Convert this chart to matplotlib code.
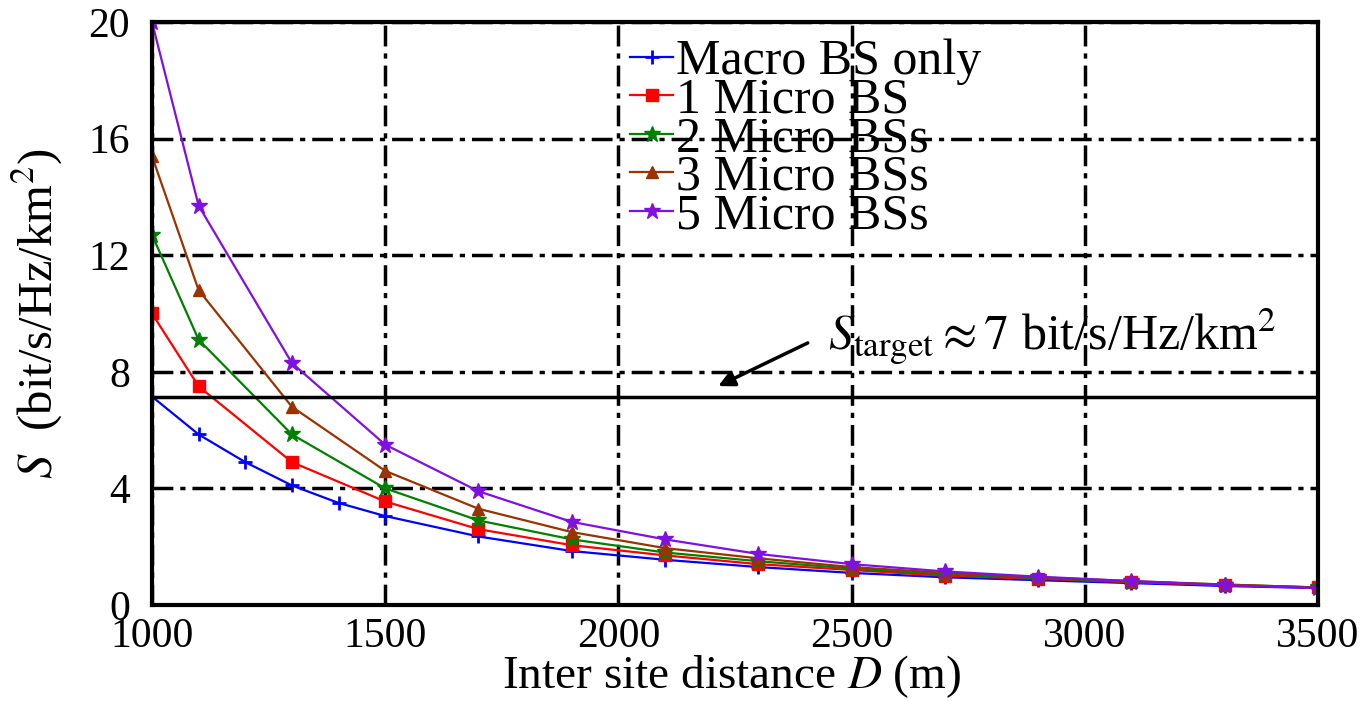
import numpy as np
import matplotlib
matplotlib.use("Agg")
import matplotlib.pyplot as plt

plt.rcParams['font.family'] = ['Liberation Serif', 'DejaVu Serif']
plt.rcParams['mathtext.fontset'] = 'stix'

# inter site distance (m)
d_macro = [1000, 1100, 1200, 1300, 1400, 1500, 1700, 1900, 2100, 2300, 2500, 2700, 2900, 3100, 3300, 3500]
d_micro = [1000, 1100, 1300, 1500, 1700, 1900, 2100, 2300, 2500, 2700, 2900, 3100, 3300, 3500]

# area spectral efficiency S (bit/s/Hz/km^2)
s_macro = [7.15, 5.85, 4.9, 4.1, 3.5, 3.05, 2.35, 1.85, 1.55, 1.3, 1.1, 0.95, 0.85, 0.75, 0.65, 0.58]
s_1micro = [10.0, 7.5, 4.9, 3.55, 2.6, 2.05, 1.7, 1.4, 1.2, 1.0, 0.9, 0.78, 0.68, 0.6]
s_2micro = [12.7, 9.1, 5.85, 4.0, 2.9, 2.25, 1.8, 1.5, 1.25, 1.05, 0.92, 0.8, 0.7, 0.6]
s_3micro = [15.4, 10.8, 6.8, 4.6, 3.3, 2.5, 1.95, 1.6, 1.3, 1.1, 0.95, 0.82, 0.7, 0.6]
s_5micro = [20.0, 13.7, 8.3, 5.5, 3.9, 2.85, 2.25, 1.75, 1.4, 1.15, 0.97, 0.82, 0.68, 0.58]

s_target = 7.15

fig = plt.figure(figsize=(13.63, 7.01), dpi=100)
ax = fig.add_axes([0.1115, 0.137, 0.8555, 0.8316])

ax.plot(d_macro, s_macro, color='#0000ff', marker='+', ms=10, mew=2, lw=1.6, label='Macro BS only')
ax.plot(d_micro, s_1micro, color='#ff0000', marker='s', ms=8, lw=1.6, label='1 Micro BS')
ax.plot(d_micro, s_2micro, color='#008000', marker='*', ms=12, lw=1.6, label='2 Micro BSs')
ax.plot(d_micro, s_3micro, color='#993300', marker='^', ms=9, lw=1.6, label='3 Micro BSs')
ax.plot(d_micro, s_5micro, color='#8010e0', marker='*', ms=12, lw=1.6, label='5 Micro BSs')

# target level and its label
ax.axhline(s_target, color='black', lw=2.5)
ax.annotate('', xy=(2214, 7.51), xytext=(2406, 8.99),
            arrowprops=dict(arrowstyle='-|>', color='black', lw=2.5, mutation_scale=24,
                            shrinkA=0, shrinkB=0))
ax.text(2449, 8.75, r'$S_{\mathrm{target}} \approx 7$ bit/s/Hz/km$^2$',
        fontsize=36, va='baseline', ha='left')

ax.set_xlim(1000, 3500)
ax.set_ylim(0, 20)
ax.set_xticks(np.arange(1000, 3501, 500))
ax.set_yticks(np.arange(0, 21, 4))
ax.grid(True, color='black', linestyle=(0, (6, 2, 1.5, 2)), lw=2.5)
for sp in ax.spines.values():
    sp.set_linewidth(3)
ax.tick_params(direction='in', length=6, width=2, labelsize=30)
ax.tick_params(axis='x', pad=9)
ax.tick_params(axis='y', pad=16)

ax.set_xlabel(r'Inter site distance $D$ (m)', fontsize=34, va='center')
ax.xaxis.set_label_coords(0.497, -0.123)
ax.set_ylabel(r'$S$  (bit/s/Hz/km$^2$)', fontsize=35, va='center')
ax.yaxis.set_label_coords(-0.098, 0.5)

leg = ax.legend(loc='upper left', bbox_to_anchor=(0.41, 0.971), frameon=False,
                fontsize=36, handlelength=0.86, handletextpad=0.05,
                labelspacing=-0.16, borderpad=0, borderaxespad=0)

fig.savefig('out.png', dpi=100)
